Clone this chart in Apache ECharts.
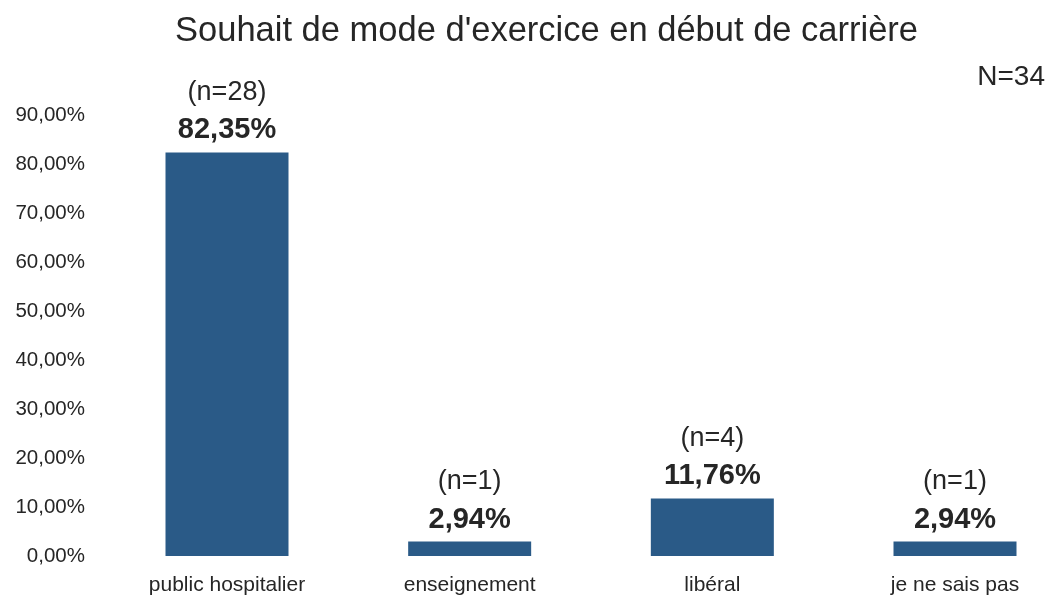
<!DOCTYPE html>
<html>
<head>
<meta charset="utf-8">
<script src="https://cdn.jsdelivr.net/npm/echarts@6/dist/echarts.min.js"></script>
<style>
html,body{margin:0;padding:0;background:#fff;}
#chart{width:1055px;height:601px;}
</style>
</head>
<body>
<div id="chart"></div>
<script>
const categories = ['public hospitalier', 'enseignement', 'libéral', 'je ne sais pas'];
const percentages = [82.35, 2.94, 11.76, 2.94];
const counts = [28, 1, 4, 1];
const totalLabel = 'N=34';
const titleText = "Souhait de mode d'exercice en début de carrière";

const fmt = v => v.toFixed(2).replace('.', ',') + '%';
const textColor = '#262626';
const font = '"Liberation Sans", Arial, sans-serif';

const chart = echarts.init(document.getElementById('chart'), null, {renderer: 'canvas'});
chart.setOption({
  backgroundColor: '#ffffff',
  animation: false,
  textStyle: {fontFamily: font, color: textColor},
  title: {
    text: titleText,
    left: 170,
    top: 9,
    textStyle: {fontFamily: font, fontSize: 34.5, fontWeight: 'normal', color: textColor}
  },
  graphic: [{
    type: 'text',
    right: 10,
    top: 63,
    style: {text: totalLabel, fontFamily: font, fontSize: 28, fill: textColor}
  }],
  grid: {left: 227, right: 100, top: 115, bottom: 45},
  xAxis: {
    type: 'category',
    data: categories,
    boundaryGap: false,
    axisLine: {show: false},
    axisTick: {show: false},
    axisLabel: {fontFamily: font, fontSize: 21, color: textColor, margin: 19}
  },
  yAxis: {
    type: 'value',
    min: 0,
    max: 90,
    interval: 10,
    splitLine: {show: false},
    axisLine: {show: false},
    axisTick: {show: false},
    axisLabel: {fontFamily: font, fontSize: 20.5, color: textColor, margin: 142, formatter: fmt}
  },
  series: [{
    type: 'bar',
    data: percentages,
    barWidth: 123,
    itemStyle: {color: '#2a5a87'},
    label: {
      show: true,
      position: 'top',
      distance: 6,
      formatter: p => '{n|(n=' + counts[p.dataIndex] + ')}\n{v|' + fmt(p.value) + '}',
      rich: {
        n: {fontFamily: font, fontSize: 27, color: textColor, lineHeight: 44},
        v: {fontFamily: font, fontSize: 29, fontWeight: 'bold', color: textColor, lineHeight: 32}
      }
    }
  }]
});
</script>
</body>
</html>
